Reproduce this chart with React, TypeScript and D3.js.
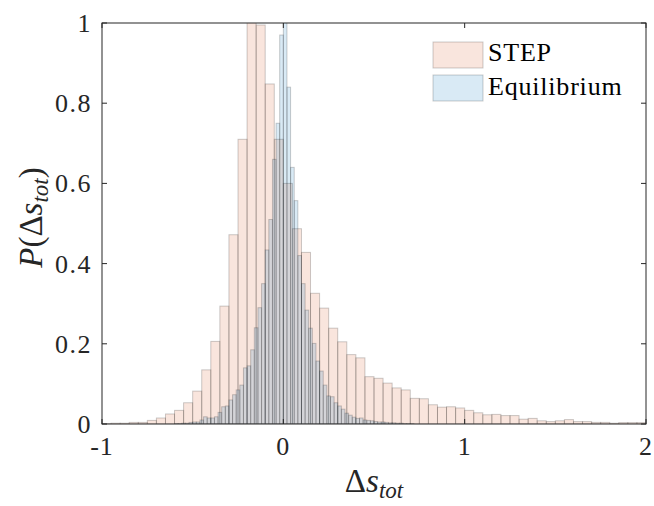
import React from 'react';
import * as d3 from 'd3';

// ---- data ----
const stepStart = -1;
const stepBinWidth = 0.05;
const stepValues = [
  0.001, 0.002, 0.002, 0.004, 0.004, 0.009, 0.015, 0.025, 0.034, 0.053,
  0.082, 0.135, 0.206, 0.294, 0.472, 0.71, 1.02, 0.995, 0.848, 0.71,
  0.6, 0.487, 0.428, 0.326, 0.289, 0.239, 0.205, 0.173, 0.165, 0.118,
  0.114, 0.102, 0.09, 0.085, 0.064, 0.063, 0.048, 0.042, 0.043, 0.04,
  0.034, 0.028, 0.023, 0.024, 0.021, 0.021, 0.012, 0.014, 0.008, 0.006,
  0.008, 0.011, 0.006, 0.006, 0.004, 0.004, 0.002, 0.0035, 0.0035, 0.0035,
];

const eqStart = -0.6;
const eqBinWidth = 0.02;
const eqValues = [
  0.001, 0.001, 0.002, 0.002, 0.004, 0.005, 0.005, 0.01, 0.018, 0.015,
  0.015, 0.018, 0.029, 0.043, 0.045, 0.06, 0.073, 0.085, 0.097, 0.14,
  0.145, 0.185, 0.24, 0.29, 0.35, 0.434, 0.51, 0.66, 0.75, 0.97,
  1.04, 0.84, 0.64, 0.557, 0.42, 0.35, 0.284, 0.239, 0.201, 0.157,
  0.132, 0.097, 0.07, 0.068, 0.053, 0.045, 0.037, 0.027, 0.022, 0.017,
  0.014, 0.015, 0.01, 0.009, 0.008, 0.006, 0.005, 0.005, 0.004, 0.003,
  0.003, 0.002, 0.002, 0.001, 0.001, 0.001,
];

const xTicks = [-1, 0, 1, 2];
const xTickLabels = ['-1', '0', '1', '2'];
const yTicks = [0, 0.2, 0.4, 0.6, 0.8, 1];
const yTickLabels = ['0', '0.2', '0.4', '0.6', '0.8', '1'];
const seriesNames = ['STEP', 'Equilibrium'];

// ---- layout ----
const W = 654;
const H = 506;
const L = 102;
const R = 646;
const T = 23;
const B = 424;
const FONT = 'Liberation Serif';
const AX = '#262626';

const x = d3.scaleLinear().domain([-1, 2]).range([L, R]);
const y = d3.scaleLinear().domain([0, 1]).range([B, T]);

const stepFill = 'rgb(217,83,25)';
const eqFill = 'rgb(0,114,189)';

function Bars({ start, bw, values, fill }: { start: number; bw: number; values: number[]; fill: string }) {
  return (
    <g>
      {values.map((v, i) => {
        const x0 = x(start + i * bw);
        const x1 = x(start + (i + 1) * bw);
        const yt = y(v);
        return (
          <rect
            key={i}
            x={x0}
            y={yt}
            width={x1 - x0}
            height={B - yt}
            fill={fill}
            fillOpacity={0.15}
            stroke="#000"
            strokeOpacity={0.2}
            strokeWidth={1}
          />
        );
      })}
    </g>
  );
}

export default function App() {
  const tick = 5;
  const fs = 26;
  return (
    <svg width={W} height={H} style={{ position: 'absolute', left: 0, top: 0, background: '#fff' }}>
      <defs>
        <clipPath id="plotclip">
          <rect x={L} y={T} width={R - L} height={B - T} />
        </clipPath>
      </defs>
      <rect x={0} y={0} width={W} height={H} fill="#fff" />
      <g clipPath="url(#plotclip)">
        <Bars start={stepStart} bw={stepBinWidth} values={stepValues} fill={stepFill} />
        <Bars start={eqStart} bw={eqBinWidth} values={eqValues} fill={eqFill} />
      </g>
      {/* box */}
      <rect x={L} y={T} width={R - L} height={B - T} fill="none" stroke={AX} strokeWidth={1} />
      {/* x ticks */}
      {xTicks.map((t, i) => (
        <g key={'xt' + i}>
          <line x1={x(t)} x2={x(t)} y1={B} y2={B - tick} stroke={AX} strokeWidth={1} />
          <line x1={x(t)} x2={x(t)} y1={T} y2={T + tick} stroke={AX} strokeWidth={1} />
          <text x={x(t)} y={455} fontFamily={FONT} fontSize={fs} letterSpacing={1} textAnchor="middle" fill={AX}>
            {xTickLabels[i]}
          </text>
        </g>
      ))}
      {/* y ticks */}
      {yTicks.map((t, i) => (
        <g key={'yt' + i}>
          <line x1={L} x2={L + tick} y1={y(t)} y2={y(t)} stroke={AX} strokeWidth={1} />
          <line x1={R} x2={R - tick} y1={y(t)} y2={y(t)} stroke={AX} strokeWidth={1} />
          <text x={92} y={y(t) + 9} fontFamily={FONT} fontSize={fs} letterSpacing={1.5} textAnchor="end" fill={AX}>
            {yTickLabels[i]}
          </text>
        </g>
      ))}
      {/* legend */}
      <rect x={433} y={42} width={50} height={26} fill={stepFill} fillOpacity={0.15} stroke="#000" strokeOpacity={0.2} />
      <rect x={433} y={75} width={50} height={26} fill={eqFill} fillOpacity={0.15} stroke="#000" strokeOpacity={0.2} />
      <text x={488} y={61} fontFamily={FONT} fontSize={fs} letterSpacing={0.8} fill="#000">{seriesNames[0]}</text>
      <text x={488} y={95} fontFamily={FONT} fontSize={fs} letterSpacing={0.8} fill="#000">{seriesNames[1]}</text>
      {/* x label */}
      <text x={(L + R) / 2} y={492} fontFamily={FONT} fontSize={33} textAnchor="middle" fill={AX}>
        <tspan>Δ</tspan>
        <tspan fontStyle="italic">s</tspan>
        <tspan fontStyle="italic" fontSize={23} dy={6}>tot</tspan>
      </text>
      {/* y label */}
      <text
        transform={`translate(42, ${(T + B) / 2 - 6}) rotate(-90)`}
        fontFamily={FONT}
        fontSize={33}
        textAnchor="middle"
        fill={AX}
      >
        <tspan fontStyle="italic">P</tspan>
        <tspan>(Δ</tspan>
        <tspan fontStyle="italic">s</tspan>
        <tspan fontStyle="italic" fontSize={23} dy={6}>tot</tspan>
        <tspan dy={-6}>)</tspan>
      </text>
    </svg>
  );
}
